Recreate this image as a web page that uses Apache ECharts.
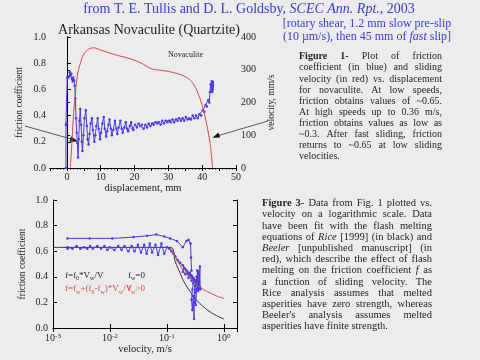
<!DOCTYPE html>
<html><head><meta charset="utf-8">
<script src="https://cdn.jsdelivr.net/npm/echarts@6/dist/echarts.min.js"></script>
<style>html,body{margin:0;padding:0;background:#ececec}#c{width:480px;height:360px}</style>
</head><body><div id="c"></div>
<script>
// ---------------- data ----------------
const dispTicks = [0, 10, 20, 30, 40, 50];
const frictionTicks = [0, 0.2, 0.4, 0.6, 0.8, 1.0];
const velTicks = [0, 100, 200, 300, 400];
// friction coefficient vs displacement (mm)
const frictionDisp = [[-0.3,0],[-0.3,0.33],[0,0.34],[0.1,0.69],[0.4,0.69],[0.7,0.70],[0.9,0.73],[1.1,0.71],[1.3,0.72],[1.5,0.68],[1.7,0.66],[1.9,0.69],[2.1,0.67],[2.3,0.63],[2.5,0.53],[2.7,0.38],[2.9,0.27],[3.1,0.19],[3.3,0.08],[3.5,0.22],[3.7,0.36],[3.95,0.45],[4.2,0.33],[4.4,0.20],[4.6,0.13],[4.9,0.25],[5.2,0.38],[5.6,0.44],[5.9,0.32],[6.1,0.22],[6.4,0.18],[6.7,0.26],[7.0,0.34],[7.4,0.38],[7.7,0.29],[8.1,0.20],[8.4,0.25],[8.7,0.32],[9.1,0.38],[9.4,0.30],[9.8,0.22],[10.1,0.27],[10.5,0.34],[10.9,0.39],[11.2,0.30],[11.6,0.24],[11.9,0.28],[12.3,0.33],[12.6,0.37],[13.0,0.30],[13.3,0.25],[13.7,0.29],[14.2,0.36],[14.6,0.30],[14.9,0.26],[15.3,0.31],[15.8,0.36],[16.2,0.30],[16.5,0.27],[17.0,0.31],[17.4,0.35],[17.8,0.30],[18.1,0.28],[18.6,0.32],[19.0,0.35],[19.4,0.30],[19.7,0.29],[20.2,0.33],[20.7,0.31],[21.2,0.34],[21.7,0.32],[22.2,0.33],[22.7,0.30],[23.2,0.33],[23.7,0.31],[24.2,0.34],[24.7,0.32],[25.2,0.34],[25.7,0.33],[26.2,0.35],[26.7,0.34],[27.2,0.35],[27.7,0.33],[28.2,0.36],[28.7,0.34],[29.2,0.36],[29.7,0.35],[30.2,0.36],[30.7,0.35],[31.2,0.37],[31.7,0.35],[32.2,0.37],[32.7,0.36],[33.2,0.38],[33.7,0.36],[34.2,0.38],[34.7,0.36],[35.2,0.39],[35.7,0.37],[36.2,0.38],[36.7,0.37],[37.2,0.40],[37.7,0.38],[38.2,0.40],[38.7,0.38],[39.2,0.41],[39.7,0.40],[40.2,0.44],[40.6,0.43],[41.0,0.48],[41.4,0.47],[41.8,0.52],[42.1,0.50],[42.3,0.58],[42.5,0.64],[42.7,0.61],[42.8,0.66],[42.9,0.59],[43.0,0.64],[43.1,0.60],[43.2,0.65],[43.1,0.62],[43.0,0.58],[43.2,0.63],[43.1,0.66]];
// sliding velocity (mm/s) vs displacement (mm)
const velocityDisp = [[1.0,0],[1.5,80],[2.0,170],[2.5,225],[3.2,290],[4.0,320],[4.6,340],[5.5,355],[6.6,364],[8,367],[10,360],[13,350],[16,341],[19,333],[22,320],[25,303],[28,298],[30,295],[33,287],[35,279],[36.5,268],[37.5,255],[38.5,235],[39.5,208],[40.3,180],[41.3,135],[42.3,78],[43.1,0]];
// friction coefficient vs velocity (m/s)
const frictionVel = [[0.0018,0.70],[0.0044,0.70],[0.011,0.70],[0.026,0.71],[0.045,0.72],[0.065,0.73],[0.09,0.715],[0.114,0.70],[0.15,0.68],[0.19,0.63],[0.22,0.68],[0.24,0.69],[0.26,0.66],[0.265,0.55],[0.27,0.45],
 [0.25,0.42],[0.22,0.45],[0.20,0.47],[0.19,0.44],[0.21,0.42],[0.23,0.43],[0.24,0.39],[0.26,0.41],[0.27,0.37],[0.28,0.40],[0.29,0.35],[0.30,0.38],[0.28,0.30],[0.27,0.22],[0.28,0.14],[0.29,0.25],[0.30,0.07],[0.30,0.20],[0.31,0.33],[0.32,0.36],[0.31,0.28],[0.32,0.18],[0.33,0.30],[0.34,0.34],[0.33,0.40],[0.35,0.31],[0.34,0.45],[0.36,0.33],[0.35,0.29],[0.37,0.32],[0.36,0.44],[0.38,0.30],[0.38,0.48],[0.37,0.36],[0.39,0.31],[0.36,0.35],[0.33,0.37],[0.31,0.37],[0.29,0.39],[0.27,0.41],[0.25,0.43],[0.23,0.44],[0.21,0.46],[0.19,0.49],[0.17,0.51],[0.155,0.53],[0.14,0.56],[0.13,0.58],[0.12,0.60],[0.11,0.62],[0.10,0.63],
 [0.09,0.58],[0.08,0.66],[0.07,0.57],[0.063,0.65],[0.055,0.59],[0.05,0.66],[0.044,0.58],[0.04,0.65],[0.035,0.59],[0.031,0.65],[0.027,0.60],[0.024,0.64],[0.021,0.60],[0.018,0.64],[0.016,0.61],[0.014,0.64],[0.012,0.61],[0.010,0.63],[0.009,0.61],[0.008,0.64],[0.007,0.62],[0.006,0.64],[0.005,0.62],[0.0045,0.64],[0.004,0.62],[0.0035,0.63],[0.003,0.62],[0.0026,0.64],[0.0022,0.62],[0.0018,0.63],[0.0018,0.62]];
// flash-melting fits
const riceFit = [[0.001,0.63],[0.115,0.63],[0.14,0.52],[0.17,0.43],[0.2,0.36],[0.26,0.28],[0.33,0.22],[0.44,0.165],[0.6,0.12],[0.8,0.09],[1.0,0.07]];
const beelerFit = [[0.115,0.63],[0.14,0.555],[0.17,0.49],[0.2,0.44],[0.26,0.39],[0.33,0.34],[0.44,0.30],[0.6,0.27],[0.8,0.245],[1.0,0.232]];

// ---------------- text ----------------
const headerLine = "from T. E. Tullis and D. L. Goldsby, _SCEC_ _Ann._ _Rpt._, 2003";
const bracketLines = ["[rotary shear, 1.2 mm slow pre-slip", "(10 µm/s), then 45 mm of _fast_ slip]"];
const chartTitle = "Arkansas Novaculite (Quartzite)";
const fig1Lines = [
 ["*Figure* *1-* Plot of friction", true],
 ["coefficient (in blue) and sliding", true],
 ["velocity (in red) vs. displacement", true],
 ["for novaculite.  At low speeds,", true],
 ["friction obtains values of ~0.65.", true],
 ["At high speeds up to 0.36 m/s,", true],
 ["friction obtains values as low as", true],
 ["~0.3.  After fast sliding, friction", true],
 ["returns to ~0.65 at low sliding", true],
 ["velocities.", false]];
const fig3Lines = [
 ["*Figure* *3-* Data from Fig. 1 plotted vs.", true],
 ["velocity on a logarithmic scale.  Data", true],
 ["have been fit with the flash melting", true],
 ["equations of _Rice_ [1999] (in black) and", true],
 ["_Beeler_ [unpublished manuscript] (in", true],
 ["red), which describe the effect of flash", true],
 ["melting on the friction coefficient _f_ as", true],
 ["a function of sliding velocity.  The", true],
 ["Rice analysis assumes that melted", true],
 ["asperities have zero strength, whereas", true],
 ["Beeler's analysis assumes melted", true],
 ["asperities have finite strength.", false]];

// ---------------- helpers ----------------
const SERIF = '"Liberation Serif", "DejaVu Serif", serif';
const BLUE = '#4a3be0', RED = '#d9444f', TXTBLUE = '#3a3ad0', INK = '#1e1e1e';
const mctx = document.createElement('canvas').getContext('2d');
function fontOf(st, size){ return (st==='italic'?'italic ':st==='bold'?'bold ':'') + size + 'px ' + SERIF; }
function tw(t, st, size){ mctx.font = fontOf(st, size); return mctx.measureText(t).width; }
function parseSegs(word){
  const segs=[]; const re=/_([^_]+)_|\*([^*]+)\*|([^_*]+)/g; let m;
  while((m=re.exec(word))){ if(m[1]) segs.push({t:m[1],st:'italic'}); else if(m[2]) segs.push({t:m[2],st:'bold'}); else segs.push({t:m[3],st:'normal'}); }
  return segs;
}
function layoutLine(line, o){
  const words = line.split(/\s+/).filter(Boolean).map(w=>{const s=parseSegs(w); s.forEach(g=>g.w=tw(g.t,g.st,o.size)); return {segs:s, w:s.reduce((a,g)=>a+g.w,0)};});
  const sumW = words.reduce((a,w)=>a+w.w,0);
  const sp = tw(' ','normal',o.size);
  let gap = sp;
  if (o.justify && words.length>1) gap = (o.width - sumW)/(words.length-1);
  const total = sumW + gap*(words.length-1);
  let x = o.align==='center' ? o.cx - total/2 : o.x;
  const els=[];
  words.forEach(w=>{ w.segs.forEach(g=>{ els.push({type:'text', x:x, y:o.y, silent:true, style:{text:g.t, font:fontOf(g.st,o.size), fill:o.color, verticalAlign:'middle', textVerticalAlign:'middle'}}); x+=g.w; }); x+=gap; });
  return els;
}

// ---------------- graphics ----------------
const graphics = [];
graphics.push(...layoutLine(headerLine, {align:'center', cx:249, y:9, size:14, color:TXTBLUE}));
bracketLines.forEach((l,i)=>graphics.push(...layoutLine(l, {align:'center', cx:367, y:24+i*13, size:12, color:TXTBLUE})));
graphics.push(...layoutLine(chartTitle, {align:'center', cx:149, y:30, size:14, color:INK}));
fig1Lines.forEach((l,i)=>graphics.push(...layoutLine(l[0], {x:299, width:143, justify:l[1], y:56.7+i*11.1, size:10, color:INK})));
fig3Lines.forEach((l,i)=>graphics.push(...layoutLine(l[0], {x:262, width:170, justify:l[1], y:203.5+i*11.2, size:10.5, color:INK})));
// "Novaculite" label
graphics.push({type:'text', x:168, y:54.5, silent:true, style:{text:'Novaculite', font:'8px '+SERIF, fill:INK, verticalAlign:'middle', textVerticalAlign:'middle'}});
// arrows
graphics.push({type:'line', silent:true, shape:{x1:25,y1:126,x2:73,y2:139.5}, style:{stroke:'#333', lineWidth:0.8}});
graphics.push({type:'polygon', silent:true, shape:{points:[[78,141.5],[71,136.3],[69.5,141.8]]}, style:{fill:'#111'}});
graphics.push({type:'line', silent:true, shape:{x1:268,y1:121,x2:217,y2:136}, style:{stroke:'#333', lineWidth:0.8}});
graphics.push({type:'polygon', silent:true, shape:{points:[[212.5,137.8],[218.5,132.6],[220,137.6]]}, style:{fill:'#111'}});
// fit equations
const eqRich = {m:{fontSize:9, fontFamily:SERIF, lineHeight:12}, s:{fontSize:6, fontFamily:SERIF, verticalAlign:'bottom', lineHeight:12}};
function eqText(x, y, txt, color){ return {type:'text', x:x, y:y, silent:true, style:{text:txt, fill:color, rich:eqRich, font:'9px '+SERIF, verticalAlign:'middle', textVerticalAlign:'middle'}}; }
graphics.push(eqText(65, 275.7, '{m|f=f}{s|0}{m|*V}{s|w}{m|/V}', '#222'));
graphics.push(eqText(128, 275.7, '{m|f}{s|w}{m|=0}', '#222'));
graphics.push(eqText(65, 289, '{m|f=f}{s|w}{m|+(f}{s|0}{m|-f}{s|w}{m|)*V}{s|w}{m|/V}', RED));
graphics.push(eqText(128, 289, '{m|f}{s|w}{m|>0}', RED));

// ---------------- chart ----------------
const lbl = {fontFamily:SERIF, fontSize:10, color:'#222'};
const nameStyle = {fontFamily:SERIF, fontSize:10.5, color:'#222'};
const yNameStyle = {fontFamily:SERIF, fontSize:9.5, color:'#222'};
const line = {lineStyle:{color:'#000', width:1}};
const logFmt = v => { const e = Math.log10(v); const r = Math.round(e); return Math.abs(e-r)<1e-6 ? '{b|10}{s|'+r+'}' : ''; };

const option = {
  backgroundColor:'#ececec',
  animation:false,
  grid:[{left:50, top:37, width:186, height:131}, {left:53, top:200, width:184, height:128}],
  xAxis:[
    {gridIndex:0, type:'value', min:-5, max:50, position:'bottom', axisLine:line, splitLine:{show:false},
     axisTick:{inside:true, length:3, customValues:dispTicks, lineStyle:{color:'#000'}},
     axisLabel:Object.assign({margin:4, customValues:dispTicks}, lbl),
     name:'displacement, mm', nameLocation:'middle', nameGap:13, nameTextStyle:nameStyle},
    {gridIndex:0, type:'value', min:-5, max:50, interval:5, position:'top', axisLine:line, splitLine:{show:false},
     axisTick:{inside:true, length:3, lineStyle:{color:'#000'}}, minorTick:{show:true, splitNumber:5, length:1.5, lineStyle:{color:'#000'}}, axisLabel:{show:false}},
    {gridIndex:1, type:'log', logBase:10, min:0.001, max:1.7, position:'bottom', axisLine:line, splitLine:{show:false},
     axisTick:{inside:true, length:4, lineStyle:{color:'#000'}},
     axisLabel:{margin:5, formatter:logFmt, showMaxLabel:false, rich:{b:{fontFamily:SERIF, fontSize:10, color:'#222'}, s:{fontFamily:SERIF, fontSize:7, color:'#222', verticalAlign:'top'}}},
     name:'velocity, m/s', nameLocation:'middle', nameGap:16, nameTextStyle:nameStyle},
    {gridIndex:1, type:'log', logBase:10, min:0.001, max:1.7, position:'top', axisLine:line, splitLine:{show:false},
     axisTick:{inside:true, length:4, lineStyle:{color:'#000'}}, axisLabel:{show:false}}
  ],
  yAxis:[
    {gridIndex:0, type:'value', min:0, max:1, interval:0.2, position:'left', axisLine:Object.assign({show:true},line), splitLine:{show:false},
     axisTick:{show:true, inside:true, length:4, lineStyle:{color:'#000'}},
     axisLabel:Object.assign({margin:4, formatter:v=>v.toFixed(1)}, lbl),
     name:'friction coefficient', nameLocation:'middle', nameRotate:90, nameGap:26, nameTextStyle:yNameStyle},
    {gridIndex:0, type:'value', min:0, max:400, interval:100, position:'right', axisLine:Object.assign({show:true},line), splitLine:{show:false},
     axisTick:{show:true, inside:false, length:3, lineStyle:{color:'#000'}},
     axisLabel:Object.assign({margin:5}, lbl),
     name:'velocity, mm/s', nameLocation:'middle', nameRotate:90, nameGap:30, nameTextStyle:yNameStyle},
    {gridIndex:1, type:'value', min:0, max:1, interval:0.2, position:'left', axisLine:Object.assign({show:true},line), splitLine:{show:false},
     axisTick:{show:true, inside:true, length:4, lineStyle:{color:'#000'}},
     axisLabel:Object.assign({margin:5, formatter:v=>v.toFixed(1)}, lbl),
     name:'friction coefficient', nameLocation:'middle', nameRotate:90, nameGap:26, nameTextStyle:yNameStyle},
    {gridIndex:1, type:'value', min:0, max:1, interval:0.2, position:'right', axisLine:Object.assign({show:true},line), splitLine:{show:false},
     axisTick:{show:true, inside:true, length:4, lineStyle:{color:'#000'}}, axisLabel:{show:false}}
  ],
  series:[
    {type:'line', xAxisIndex:0, yAxisIndex:0, data:frictionDisp, symbol:'circle', symbolSize:2.5, showSymbol:true,
     lineStyle:{color:BLUE, width:1}, itemStyle:{color:BLUE}, z:3},
    {type:'line', xAxisIndex:0, yAxisIndex:1, data:velocityDisp, symbol:'none', smooth:0.3,
     lineStyle:{color:RED, width:1}, z:4},
    {type:'line', xAxisIndex:2, yAxisIndex:2, data:riceFit, symbol:'none', smooth:0.4, lineStyle:{color:'#333', width:1}, z:2},
    {type:'line', xAxisIndex:2, yAxisIndex:2, data:frictionVel, symbol:'circle', symbolSize:2.5, showSymbol:true,
     lineStyle:{color:BLUE, width:1}, itemStyle:{color:BLUE}, z:3},
    {type:'line', xAxisIndex:2, yAxisIndex:2, data:beelerFit, symbol:'none', smooth:0.4, lineStyle:{color:RED, width:1}, z:4}
  ],
  graphic:graphics
};
const chart = echarts.init(document.getElementById('c'), null, {renderer:'canvas'});
chart.setOption(option);
</script></body></html>
